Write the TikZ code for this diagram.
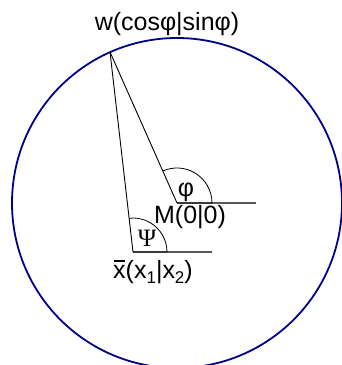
\documentclass[tikz,border=0pt]{standalone}
\usepackage{fontspec}
\setmainfont{Liberation Sans}
\newfontfamily\serifgreek{Liberation Serif}
\usepackage{tikz}
\usetikzlibrary{positioning}
\definecolor{circleblue}{RGB}{0,0,139}
\newcommand{\lowidx}[1]{\raisebox{-5pt}{\fontsize{17}{17}\selectfont #1}}
\newcommand{\barx}{\rlap{\hspace{1pt}\raisebox{16.5pt}{\rule{10.5pt}{2.2pt}}}x}
\tikzset{
    unitcircle/.style={draw=circleblue, line width=1.8pt},
    ray/.style={draw=black, line width=0.9pt},
    baseline ray/.style={draw=black!65, line width=1.3pt},
    anglearc/.style={draw=black, line width=0.8pt},
    lbl/.style={font=\fontsize{25}{29}\selectfont, inner sep=0pt}
}

\begin{document}
\begin{tikzpicture}[x=1pt, y=1pt]
    \useasboundingbox (0,0) rectangle (341,365);
    \coordinate (M) at (177,162);
    \coordinate (w) at (110,313);
    \coordinate (xbar) at (133,113);
    \coordinate (Mend) at (256,162);
    \coordinate (xend) at (212,113);

    \draw [unitcircle] (M) circle [radius=165];

    \draw [baseline ray] (M) -- (Mend);
    \draw [baseline ray] (xbar) -- (xend);
    \draw [anglearc] (M) -- ++(35,0) arc [start angle=0, end angle=113.9, radius=35];
    \draw [anglearc] (xbar) -- ++(34,0) arc [start angle=0, end angle=96.6, radius=34];

    \draw [ray] (w) -- (M);
    \draw [ray] (w) -- (xbar);

    \node (wlabel) [lbl] at (167,341) {w(cosφ|sinφ)};
    \node (Mlabel) [lbl] at (190,148) {M(0|0)};
    \node (xlabel) [lbl] at (153,93) {\barx(x\lowidx{1}|x\lowidx{2})};
    \node (philabel) [lbl] at (186,173) {φ};
    \node (psilabel) [lbl, font=\fontsize{25}{29}\serifgreek] at (147,127) {Ψ};
\end{tikzpicture}
\end{document}
